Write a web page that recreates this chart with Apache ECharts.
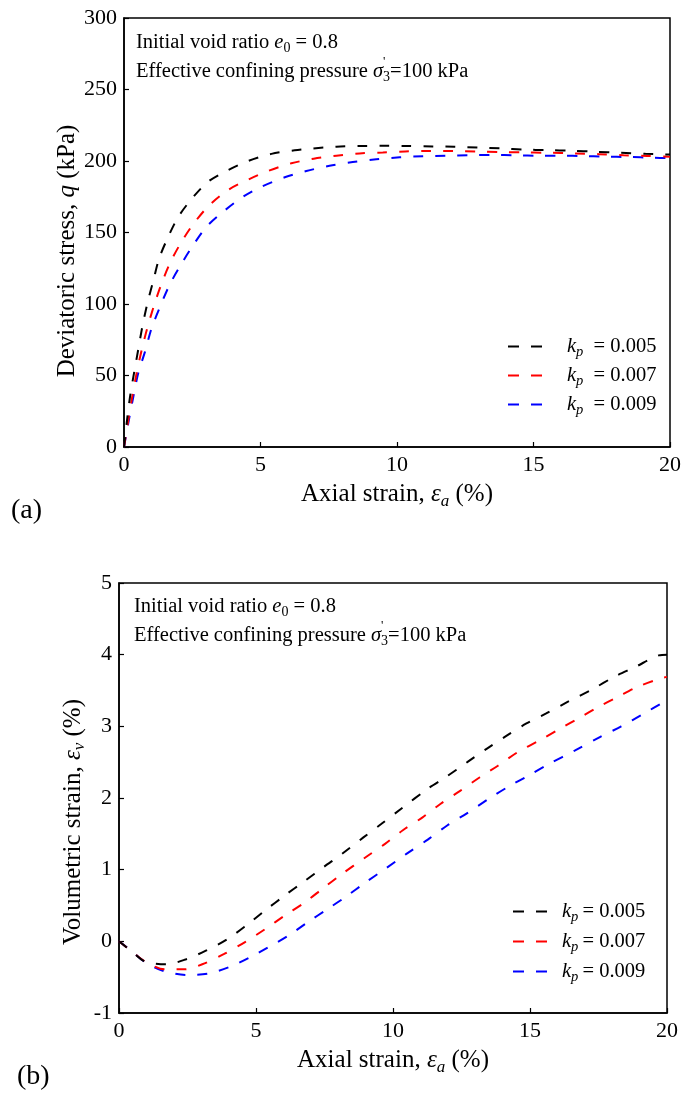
<!DOCTYPE html>
<html><head><meta charset="utf-8">
<script src="https://cdn.jsdelivr.net/npm/echarts@6/dist/echarts.min.js"></script>
<style>html,body{margin:0;padding:0;background:#fff}#c{width:684px;height:1093px}</style>
</head><body><div id="c"></div>
<script>
// ---------- data ----------
const seriesNames = ['kp0.005', 'kp0.007', 'kp0.009'];
const legendValues = ['0.005', '0.007', '0.009'];
const xTicksA = [0, 5, 10, 15, 20];
const yTicksA = [0, 50, 100, 150, 200, 250, 300];
const yTicksB = [-1, 0, 1, 2, 3, 4, 5];

// (a) deviatoric stress q (kPa) vs axial strain (%)
const qX_005 = [0, 0.1, 0.22, 0.37, 0.52, 0.67, 0.85, 1.07, 1.29, 1.62, 1.99, 2.5, 3.08, 3.75, 4.55, 5.4, 6.25, 6.94, 7.78, 8.63, 9.48, 10.3, 11.3, 12.1, 12.96, 13.8, 14.66, 15.5, 16.4, 17.25, 18.2, 19.1, 20];
const qY_005 = [0, 17, 35, 52, 68, 84, 100, 116, 132, 147, 161, 174, 185.5, 193, 200, 205, 207.5, 208.8, 210, 210.5, 210.6, 210.5, 210.2, 210, 209.4, 208.8, 208, 207.6, 207.2, 206.5, 205.7, 205, 204.5];
const qX_007 = [0, 0.16, 0.3, 0.46, 0.65, 0.85, 1.1, 1.38, 1.71, 2.11, 2.56, 3.12, 3.81, 4.55, 5.28, 6.13, 6.95, 7.78, 8.63, 9.48, 10.3, 11.2, 12.04, 12.9, 13.75, 14.6, 15.45, 16.55, 17.4, 18.3, 19.17, 20];
const qY_007 = [0, 19, 35, 51.5, 68, 83, 99, 114.5, 129.6, 143.6, 156.4, 169, 179.7, 187, 193, 198.4, 201.6, 203.7, 205.3, 206, 206.7, 207, 207, 206.7, 206.3, 206, 205.8, 205.3, 204.8, 204, 203.5, 203];
const qX_009 = [0, 0.18, 0.34, 0.52, 0.77, 1.01, 1.32, 1.66, 2.07, 2.53, 3.02, 3.63, 4.36, 5.03, 5.89, 6.68, 7.53, 8.38, 9.24, 10.1, 10.94, 11.8, 12.65, 13.5, 14.36, 15.2, 16.06, 16.8, 17.6, 18.5, 19.35, 20];
const qY_009 = [0, 19, 35, 51.5, 66.7, 83, 98, 113, 127, 141, 154, 164.5, 175, 182, 188.6, 193, 196.7, 199.3, 201.2, 202.6, 203.3, 203.7, 204, 204.2, 204, 203.7, 203.7, 203.5, 203, 202.8, 202.3, 202];

// (b) volumetric strain (%) vs axial strain (%)
const vX_005 = [0, 0.5, 0.95, 1.73, 2.45, 3.17, 3.95, 4.67, 5.33, 6.05, 6.77, 7.48, 8.14, 8.92, 9.58, 10.3, 11.27, 11.92, 12.71, 13.43, 14.15, 14.87, 15.59, 16.37, 17.29, 18.07, 18.85, 19.7, 20];
const vY_005 = [0, -0.15, -0.28, -0.32, -0.25, -0.13, 0.03, 0.23, 0.43, 0.64, 0.84, 1.04, 1.22, 1.45, 1.64, 1.85, 2.13, 2.29, 2.5, 2.69, 2.87, 3.04, 3.18, 3.34, 3.52, 3.69, 3.83, 3.99, 4.0];
const vX_007 = [0, 0.5, 0.95, 1.67, 2.39, 3.04, 3.82, 4.6, 5.33, 6.05, 6.77, 7.48, 8.14, 8.99, 9.71, 10.36, 11.08, 11.74, 12.45, 13.17, 13.83, 14.55, 15.33, 16.11, 16.77, 17.49, 18.2, 18.92, 19.77, 20];
const vY_007 = [0, -0.15, -0.28, -0.39, -0.39, -0.32, -0.18, -0.01, 0.17, 0.36, 0.54, 0.75, 0.94, 1.17, 1.36, 1.55, 1.73, 1.92, 2.1, 2.29, 2.45, 2.64, 2.8, 2.97, 3.11, 3.27, 3.41, 3.55, 3.67, 3.69];
const vX_009 = [0, 0.5, 0.95, 1.6, 2.45, 3.24, 4.02, 4.8, 5.46, 6.18, 6.9, 7.61, 8.27, 8.99, 9.71, 10.49, 11.27, 11.99, 12.71, 13.5, 14.22, 14.93, 15.72, 16.63, 17.55, 18.33, 19.12, 19.84, 20];
const vY_009 = [0, -0.15, -0.29, -0.41, -0.47, -0.45, -0.36, -0.22, -0.08, 0.08, 0.27, 0.45, 0.62, 0.82, 1.01, 1.22, 1.42, 1.62, 1.79, 1.99, 2.16, 2.31, 2.48, 2.66, 2.85, 3.0, 3.17, 3.33, 3.36];

// ---------- helpers ----------
const FONT = "'Liberation Serif','Times New Roman',Times,serif";
const colors = ['#000000', '#ff0000', '#0000ff'];
const zip = (xs, ys) => xs.map((x, i) => [x, ys[i]]);
const qSets = [[qX_005, qY_005], [qX_007, qY_007], [qX_009, qY_009]];
const vSets = [[vX_005, vY_005], [vX_007, vY_007], [vX_009, vY_009]];

const rich = {
  n: { fontFamily: FONT, fontSize: 25, color: '#000' },
  i: { fontFamily: FONT, fontSize: 25, fontStyle: 'italic', color: '#000' },
  isub: { fontFamily: FONT, fontSize: 17, fontStyle: 'italic', color: '#000', padding: [14, 0, 0, 0] },
  sn: { fontFamily: FONT, fontSize: 20.5, color: '#000' },
  si: { fontFamily: FONT, fontSize: 20.5, fontStyle: 'italic', color: '#000' },
  ssub: { fontFamily: FONT, fontSize: 14, color: '#000', padding: [11, 0, 0, 0] }
};
function legendRich(gap) {
  return {
    lk: { fontFamily: FONT, fontSize: 20.5, fontStyle: 'italic', color: '#000', padding: [0, 0, 0, gap] },
    lp: { fontFamily: FONT, fontSize: 14.5, fontStyle: 'italic', color: '#000', padding: [12, 0, 0, 0] },
    lt: { fontFamily: FONT, fontSize: 20.5, color: '#000' }
  };
}

function xAxisCfg(gridIndex) {
  return {
    gridIndex, type: 'value', min: 0, max: 20, interval: 5,
    name: '{n|Axial strain, }{i|ε}{isub|a}{n| (%)}',
    nameLocation: 'middle', nameGap: 32,
    nameTextStyle: { rich },
    axisLine: { show: true, onZero: false, lineStyle: { color: '#000', width: 1.5 } },
    axisTick: { show: true, inside: true, length: 5, lineStyle: { color: '#000', width: 1.2 } },
    axisLabel: { fontFamily: FONT, fontSize: 22, color: '#000', margin: 7 },
    splitLine: { show: false }
  };
}
function yAxisCfg(gridIndex, min, max, interval) {
  return {
    gridIndex, type: 'value', min, max, interval,
    axisLine: { show: true, onZero: false, lineStyle: { color: '#000', width: 1.5 } },
    axisTick: { show: true, inside: true, length: 5, lineStyle: { color: '#000', width: 1.2 } },
    axisLabel: { fontFamily: FONT, fontSize: 22, color: '#000', margin: 7 },
    splitLine: { show: false }
  };
}

const series = [];
qSets.forEach((s, k) => series.push({
  name: seriesNames[k], type: 'line', xAxisIndex: 0, yAxisIndex: 0,
  data: zip(s[0], s[1]), showSymbol: false, symbol: 'none', smooth: 0.3,
  lineStyle: { color: colors[k], width: 2, type: [10, 12] }, itemStyle: { color: colors[k] }, z: 3 - k
}));
vSets.forEach((s, k) => series.push({
  name: seriesNames[k], type: 'line', xAxisIndex: 1, yAxisIndex: 1,
  data: zip(s[0], s[1]), showSymbol: false, symbol: 'none', smooth: 0.3,
  lineStyle: { color: colors[k], width: 2, type: [10, 12] }, itemStyle: { color: colors[k] }, z: 3 - k
}));

function legendCfg(left, top, eq, gap, itemGap) {
  return {
    orient: 'vertical', left, top, itemWidth: 34, itemHeight: 2.4, itemGap,
    icon: 'path://M0,0H11V2H0Z M23,0H34V2H23Z',
    data: seriesNames, selectedMode: false,
    formatter: name => '{lk|k}{lp|p}{lt|' + eq + legendValues[seriesNames.indexOf(name)] + '}',
    textStyle: { rich: legendRich(gap) }
  };
}

function noteTexts(left, top) {
  return [
    { type: 'text', left, top, style: { text: '{sn|Initial void ratio }{si|e}{ssub|0}{sn| = 0.8}', rich } },
    { type: 'text', left, top: top + 29, style: { text: '{sn|Effective confining pressure }{si|σ}{ssub|3}{sn|=100 kPa}', rich } },
    { type: 'text', left: left + 247, top: top + 23, style: { text: '\'', font: '13px ' + FONT, fill: '#000' } }
  ];
}

const option = {
  backgroundColor: '#fff',
  animation: false,
  grid: [
    { left: 124, top: 18, width: 547, height: 429, show: true, borderColor: '#000', borderWidth: 1.5, backgroundColor: 'transparent' },
    { left: 119, top: 583, width: 548, height: 430, show: true, borderColor: '#000', borderWidth: 1.5, backgroundColor: 'transparent' }
  ],
  xAxis: [xAxisCfg(0), xAxisCfg(1)],
  yAxis: [yAxisCfg(0, 0, 300, 50), yAxisCfg(1, -1, 5, 1)],
  legend: [legendCfg(503, 331, '  = ', 20, 5), legendCfg(508, 896, '\u2009= ', 10, 6)],
  graphic: [
    ...noteTexts(136, 32),
    ...noteTexts(134, 596),
    { type: 'text', x: 67, y: 251, rotation: Math.PI / 2,
      style: { text: '{n|Deviatoric stress, }{i|q}{n| (kPa)}', rich, align: 'center', verticalAlign: 'middle' } },
    { type: 'text', x: 73, y: 822, rotation: Math.PI / 2,
      style: { text: '{n|Volumetric strain, }{i|ε}{isub|v}{n| (%)}', rich, align: 'center', verticalAlign: 'middle' } },
    { type: 'text', left: 11, top: 497, style: { text: '(a)', font: '28px ' + FONT, fill: '#000' } },
    { type: 'text', left: 17, top: 1063, style: { text: '(b)', font: '28px ' + FONT, fill: '#000' } }
  ],
  series
};
const chart = echarts.init(document.getElementById('c'), null, { renderer: 'canvas' });
chart.setOption(option);
</script></body></html>
